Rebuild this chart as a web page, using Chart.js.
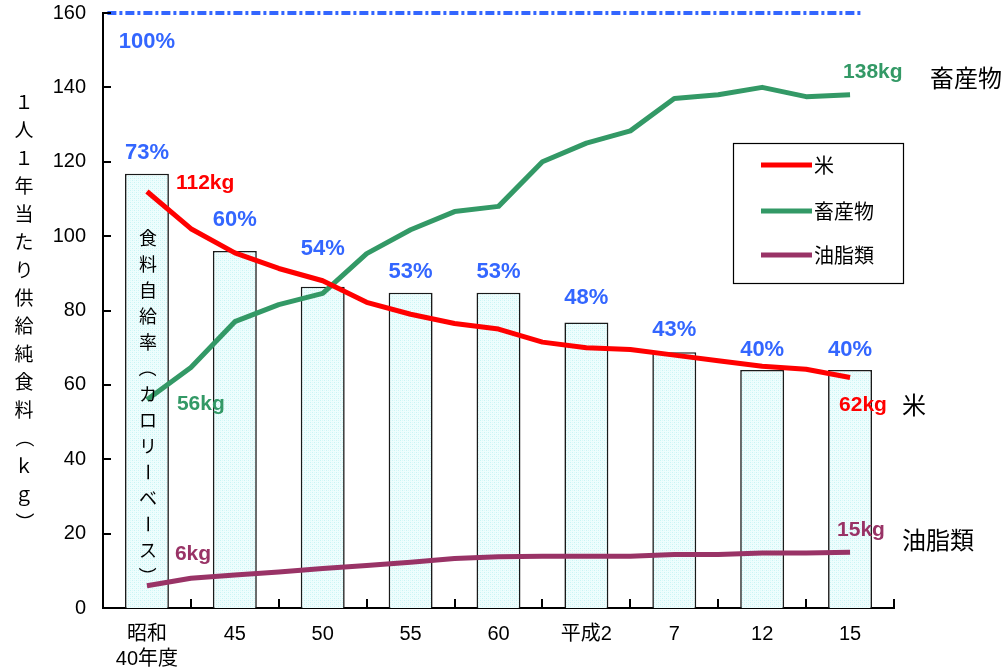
<!DOCTYPE html>
<html>
<head>
<meta charset="utf-8">
<script src="https://cdn.jsdelivr.net/npm/chart.js@4/dist/chart.umd.min.js"></script>
<style>
  html, body { margin: 0; padding: 0; background: #fff; }
  #wrap { width: 1006px; height: 672px; position: relative; }
</style>
</head>
<body>
<div id="wrap"><canvas id="c" width="1006" height="672"></canvas></div>
<script>
// 年度ラベル（棒グラフの区分）
const fiscalYears = [['昭和', '40年度'], '45', '50', '55', '60', '平成2', '7', '12', '15'];
// 食料自給率（カロリーベース, %）
const selfSufficiency = [73, 60, 54, 53, 53, 48, 43, 40, 40];
// 1人1年当たり供給純食料（kg）: 区分とその中間時点の値
const riceKg      = [112, 102, 95.5, 91.3, 88, 82.2, 79, 76.5, 75, 71.5, 70, 69.5, 68, 66.5, 65, 64.2, 62];
const livestockKg = [56, 64.7, 77, 81.6, 84.6, 95.3, 101.7, 106.6, 108, 120, 125, 128.3, 137, 138, 140, 137.5, 138];
const oilKg       = [6, 8, 8.9, 9.7, 10.6, 11.4, 12.3, 13.3, 13.8, 13.9, 13.9, 13.9, 14.4, 14.4, 14.8, 14.8, 15];
// 縦軸
const axisMax = 160;
const axisStep = 20;
// 自給率100%の基準線の横方向の範囲（区分の番号単位）
const fullSupplySpan = [-0.45, 8.13];

const FONT_LATIN = '"Liberation Sans", Arial, "Noto Sans CJK JP", sans-serif';
const FONT_CJK = '"Noto Sans CJK JP", "Noto Sans CJK SC", sans-serif';
const BLUE = '#3366ff';
const RED = '#ff0000';
const GREEN = '#339966';
const PURPLE = '#993366';

// 棒の薄い水色の網点
function makeDotPattern() {
  const c = document.createElement('canvas');
  c.width = 4; c.height = 4;
  const g = c.getContext('2d');
  g.fillStyle = '#eefdfd';
  g.fillRect(0, 0, 4, 4);
  g.fillStyle = '#c8f4f4';
  g.fillRect(0, 0, 1, 1);
  g.fillRect(2, 2, 1, 1);
  g.fillStyle = '#dcf9f9';
  g.fillRect(2, 0, 1, 1);
  g.fillRect(0, 2, 1, 1);
  const ctx = document.getElementById('c').getContext('2d');
  return ctx.createPattern(c, 'repeat');
}

const toPoints = arr => arr.map((v, i) => ({ x: i / 2, y: v }));
const barValues = selfSufficiency.map(p => p * axisMax / 100);

// 数値ラベルの持ち上げ量（px）
const pctLabelLift = [21, 31, 38, 21, 21, 24, 22, 20, 20];

// 縦書き: 長音・括弧は90度回転
function drawVertical(ctx, text, x, yStart, step, font) {
  ctx.save();
  ctx.font = font;
  ctx.fillStyle = '#000';
  ctx.textAlign = 'center';
  ctx.textBaseline = 'middle';
  [...text].forEach((ch, i) => {
    const y = yStart + i * step;
    if ('（）ー'.includes(ch)) {
      ctx.save();
      ctx.translate(x, y);
      ctx.rotate(Math.PI / 2);
      ctx.fillText(ch, 0, 0);
      ctx.restore();
    } else {
      ctx.fillText(ch, x, y);
    }
  });
  ctx.restore();
}

const overlay = {
  id: 'overlay',
  afterDraw(chart) {
    const { ctx, chartArea: a, scales } = chart;
    const x = scales.x, y = scales.y, xl = scales.xl;

    // 内向きの目盛り
    ctx.save();
    ctx.strokeStyle = '#000';
    ctx.lineWidth = 2;
    ctx.beginPath();
    for (let v = axisStep; v <= axisMax; v += axisStep) {
      const py = Math.round(y.getPixelForValue(v));
      ctx.moveTo(a.left, py);
      ctx.lineTo(a.left + 8, py);
    }
    for (let i = 0; i < fiscalYears.length; i++) {
      const px = Math.round(xl.getPixelForValue(i + 0.5));
      ctx.moveTo(px, a.bottom);
      ctx.lineTo(px, a.bottom - 9);
    }
    ctx.stroke();
    ctx.restore();

    // 自給率ラベル
    ctx.save();
    ctx.font = 'bold 22px ' + FONT_LATIN;
    ctx.fillStyle = BLUE;
    ctx.textAlign = 'center';
    ctx.textBaseline = 'middle';
    selfSufficiency.forEach((p, i) => {
      ctx.fillText(p + '%', x.getPixelForValue(i), y.getPixelForValue(barValues[i]) - pctLabelLift[i]);
    });
    ctx.fillText('100%', x.getPixelForValue(0), y.getPixelForValue(axisMax) + 29);
    ctx.restore();

    // 始点・終点の数量ラベル
    const last = riceKg.length - 1;
    const kgLabels = [
      [riceKg, 0, RED, 29, -8],
      [livestockKg, 0, GREEN, 30, 4],
      [oilKg, 0, PURPLE, 28, -31],
      [livestockKg, last, GREEN, -7, -23],
      [riceKg, last, RED, -11, 28],
      [oilKg, last, PURPLE, -13, -22],
    ];
    ctx.save();
    ctx.font = 'bold 21px ' + FONT_LATIN;
    ctx.textAlign = 'left';
    ctx.textBaseline = 'middle';
    kgLabels.forEach(([arr, i, color, dx, dy]) => {
      ctx.fillStyle = color;
      ctx.fillText(arr[i] + 'kg', xl.getPixelForValue(i / 2) + dx, y.getPixelForValue(arr[i]) + dy);
    });
    ctx.restore();

    // 系列名（右側）
    ctx.save();
    ctx.font = '24px ' + FONT_CJK;
    ctx.fillStyle = '#000';
    ctx.textAlign = 'left';
    ctx.textBaseline = 'middle';
    ctx.fillText('畜産物', 930, 78);
    ctx.fillText('米', 902, 405);
    ctx.fillText('油脂類', 902, 540);
    ctx.restore();

    // 凡例
    ctx.save();
    ctx.fillStyle = '#fff';
    ctx.fillRect(733.5, 143.5, 170, 140);
    ctx.strokeStyle = '#000';
    ctx.lineWidth = 1.2;
    ctx.strokeRect(733.5, 143.5, 170, 140);
    ctx.font = '20px ' + FONT_CJK;
    ctx.textAlign = 'left';
    ctx.textBaseline = 'middle';
    const legendRows = [165, 211, 255];
    chart.data.datasets.filter(d => d.inLegend).forEach((d, k) => {
      ctx.strokeStyle = d.borderColor;
      ctx.lineWidth = 5;
      ctx.beginPath();
      ctx.moveTo(761, legendRows[k]);
      ctx.lineTo(812, legendRows[k]);
      ctx.stroke();
      ctx.fillStyle = '#000';
      ctx.fillText(d.label, 814, legendRows[k]);
    });
    ctx.restore();

    // 縦軸タイトルと棒内の説明
    drawVertical(ctx, '１人１年当たり供給純食料（ｋｇ）', 24, 102, 28, '19px ' + FONT_CJK);
    drawVertical(ctx, '食料自給率（カロリーベース）', x.getPixelForValue(0) + 1, 238, 26, '18px ' + FONT_CJK);
  }
};

new Chart(document.getElementById('c'), {
  type: 'bar',
  data: {
    labels: fiscalYears,
    datasets: [
      {
        type: 'line', label: '米', inLegend: true, xAxisID: 'xl',
        data: toPoints(riceKg), borderColor: RED, borderWidth: 5,
        pointRadius: 0, tension: 0, borderJoinStyle: 'round', order: 1
      },
      {
        type: 'line', label: '畜産物', inLegend: true, xAxisID: 'xl',
        data: toPoints(livestockKg), borderColor: GREEN, borderWidth: 5,
        pointRadius: 0, tension: 0, borderJoinStyle: 'round', order: 2
      },
      {
        type: 'line', label: '油脂類', inLegend: true, xAxisID: 'xl',
        data: toPoints(oilKg), borderColor: PURPLE, borderWidth: 5,
        pointRadius: 0, tension: 0, borderJoinStyle: 'round', order: 3
      },
      {
        type: 'line', label: '100%', xAxisID: 'xl',
        data: fullSupplySpan.map(v => ({ x: v, y: axisMax })),
        borderColor: BLUE, borderWidth: 4, borderDash: [9, 3, 3, 3],
        pointRadius: 0, order: 4, clip: false
      },
      {
        type: 'bar', label: '食料自給率', xAxisID: 'x',
        data: barValues, backgroundColor: makeDotPattern(),
        borderColor: '#1a1a1a', borderWidth: 1.6, grouped: false,
        barPercentage: 0.5, categoryPercentage: 1.0, order: 10
      }
    ]
  },
  options: {
    responsive: false,
    animation: false,
    devicePixelRatio: 1,
    layout: { padding: { top: 13, right: 112, left: 0, bottom: 0 } },
    plugins: { legend: { display: false }, tooltip: { enabled: false } },
    scales: {
      x: {
        type: 'category',
        offset: true,
        grid: { display: false, drawTicks: false },
        border: { display: true, color: '#000', width: 2 },
        ticks: {
          color: '#000', padding: 14, maxRotation: 0, autoSkip: false,
          font: { family: FONT_LATIN, size: 20, lineHeight: 1.25 }
        },
        afterFit: s => { s.height = 64; s.paddingLeft = 0; s.paddingRight = 0; }
      },
      xl: {
        type: 'linear', display: false, offset: false,
        min: -0.5, max: fiscalYears.length - 0.5
      },
      y: {
        min: 0, max: axisMax,
        grid: { display: false, drawTicks: false },
        border: { display: true, color: '#000', width: 2 },
        ticks: {
          stepSize: axisStep, color: '#000', padding: 17,
          font: { family: FONT_LATIN, size: 20 }
        },
        afterFit: s => { s.width = 103; s.paddingTop = 0; s.paddingBottom = 0; }
      }
    }
  },
  plugins: [overlay]
});
</script>
</body>
</html>
